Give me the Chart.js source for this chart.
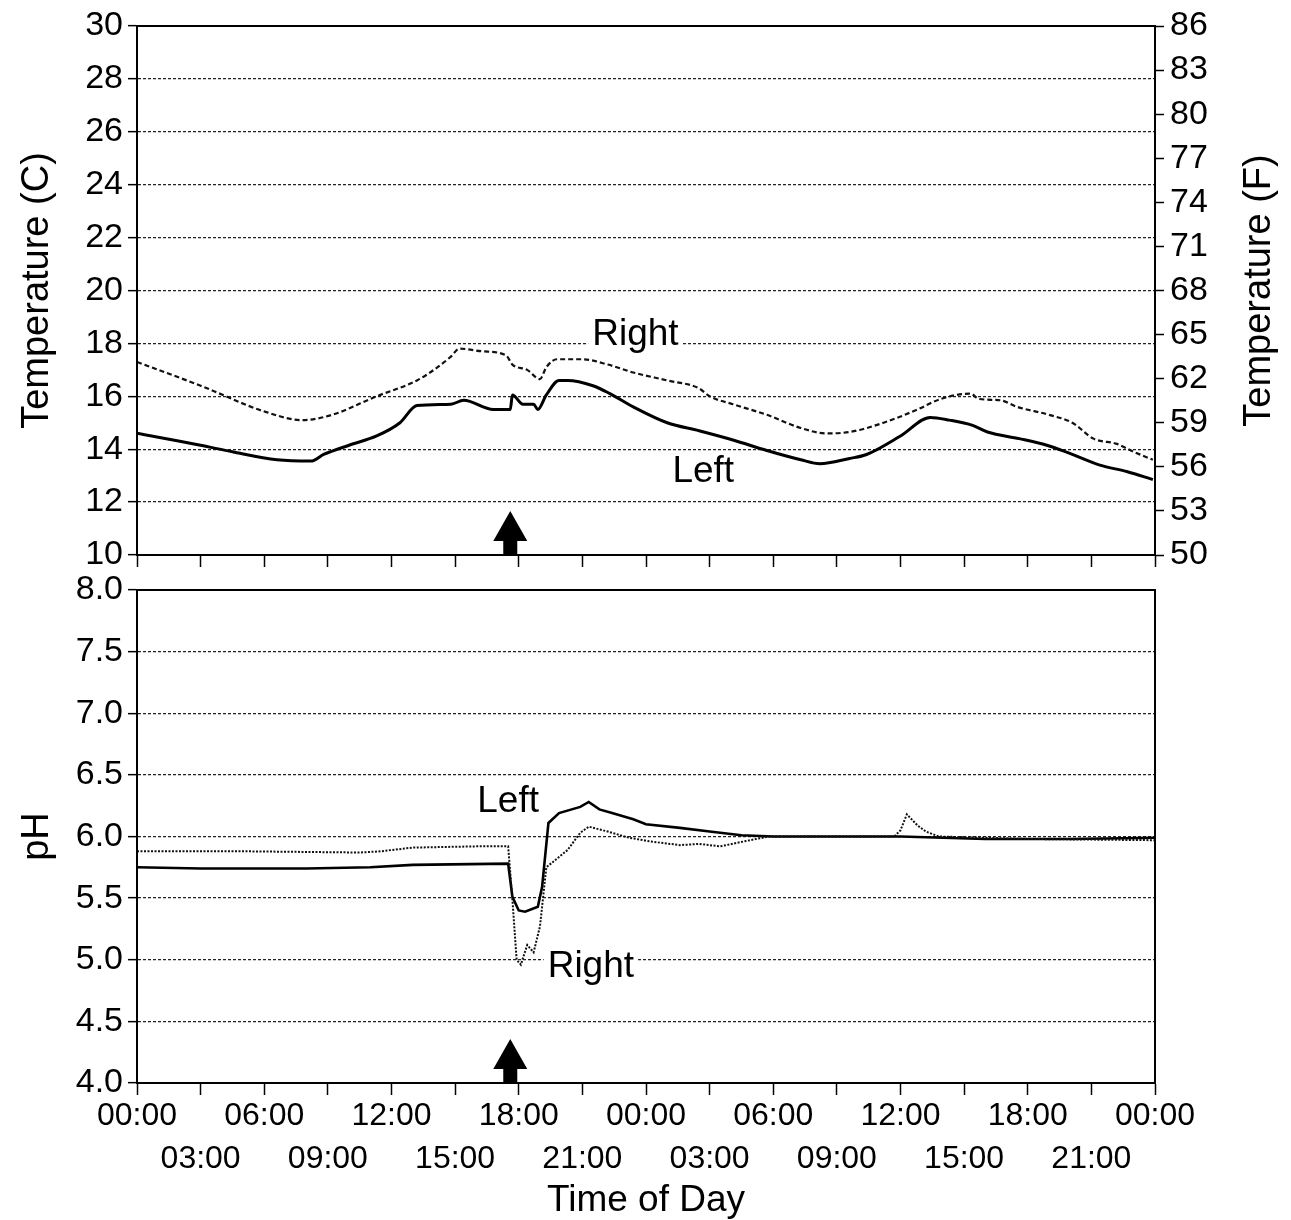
<!DOCTYPE html>
<html>
<head>
<meta charset="utf-8">
<script src="https://cdn.jsdelivr.net/npm/chart.js@4.4.0/dist/chart.umd.min.js"></script>
<style>
html,body{margin:0;padding:0;background:#fff;}
#wrap{position:relative;width:1291px;height:1220px;overflow:hidden;}
canvas{position:absolute;left:0;}
#chTemp{top:-4px;}
#chPh{top:562px;}
</style>
</head>
<body>
<div id="wrap">
  <canvas id="chTemp" width="1291" height="589"></canvas>
  <canvas id="chPh" width="1291" height="658"></canvas>
</div>
<script>
// hours since first midnight
const timeTicks = ['00:00','03:00','06:00','09:00','12:00','15:00','18:00','21:00','00:00','03:00','06:00','09:00','12:00','15:00','18:00','21:00','00:00'];

const tempHoursRight = [0, 3.0, 6.1, 7.8, 9.2, 11.3, 13.2, 14.0, 14.8, 15.2, 16.3, 17.4, 17.7, 18.4, 19.0, 19.3, 19.8, 21.0, 22.2, 23.4, 25.0, 26.5, 27.0, 28.1, 29.7, 31.3, 32.5, 33.6, 35.2, 36.8, 37.9, 39.3, 39.7, 40.7, 41.5, 43.0, 44.1, 45.1, 46.2, 47.0, 47.9];
const tempRight = [17.3, 16.4, 15.4, 15.1, 15.3, 16.0, 16.6, 17.0, 17.5, 17.8, 17.7, 17.55, 17.2, 17.0, 16.65, 17.1, 17.4, 17.4, 17.2, 16.9, 16.6, 16.3, 16.0, 15.7, 15.3, 14.8, 14.6, 14.65, 15.0, 15.5, 15.9, 16.1, 15.9, 15.85, 15.6, 15.3, 15.0, 14.4, 14.2, 13.9, 13.6];

const tempHoursLeft = [0, 3.0, 4.5, 6.6, 8.2, 8.8, 10.0, 11.3, 12.4, 13.2, 14.8, 15.4, 16.8, 17.6, 17.7, 18.2, 18.7, 18.9, 19.3, 19.9, 20.3, 21.5, 22.3, 23.4, 25.0, 26.5, 28.1, 29.7, 31.3, 32.2, 33.6, 34.4, 36.0, 37.4, 38.3, 39.4, 40.1, 41.6, 42.9, 43.8, 45.4, 46.7, 47.9];
const tempLeft = [14.6, 14.15, 13.9, 13.6, 13.55, 13.8, 14.15, 14.5, 15.0, 15.65, 15.7, 15.85, 15.5, 15.5, 16.05, 15.7, 15.7, 15.5, 16.05, 16.6, 16.6, 16.4, 16.1, 15.6, 15.0, 14.7, 14.35, 13.95, 13.6, 13.45, 13.65, 13.8, 14.5, 15.2, 15.1, 14.9, 14.65, 14.4, 14.15, 13.9, 13.4, 13.15, 12.85];

const phHoursRight = [0, 5, 10.5, 11.5, 13, 16, 17.5, 17.7, 17.9, 18.1, 18.4, 18.7, 19.0, 19.3, 20.3, 20.9, 21.3, 22.2, 23.2, 24.2, 25.6, 26.5, 27.5, 28.9, 29.8, 35.7, 36.0, 36.3, 36.8, 37.2, 37.8, 40, 42, 48];
const phRight = [5.88, 5.88, 5.87, 5.88, 5.91, 5.92, 5.92, 5.49, 5.0, 4.96, 5.12, 5.06, 5.27, 5.75, 5.89, 6.03, 6.08, 6.04, 5.99, 5.96, 5.93, 5.94, 5.92, 5.97, 6.0, 6.0, 6.05, 6.18, 6.09, 6.04, 6.0, 5.99, 5.98, 5.97];

const phHoursLeft = [0, 3, 8, 11, 13, 17.5, 17.7, 18.0, 18.3, 18.9, 19.1, 19.4, 19.9, 20.9, 21.3, 21.8, 22.4, 23.4, 24.0, 25.6, 27, 28.5, 30, 36, 38, 40, 44, 48];
const phLeft = [5.75, 5.74, 5.74, 5.75, 5.77, 5.78, 5.51, 5.4, 5.39, 5.43, 5.59, 6.11, 6.19, 6.24, 6.28, 6.22, 6.19, 6.14, 6.1, 6.07, 6.04, 6.01, 6.0, 6.0, 5.99, 5.98, 5.98, 5.99];

// event marker (hour) and in-plot labels [text, hour, value at baseline, boxed]
const arrowHour = 17.6;
const tempNotes = [['Right', 23.5, 17.95, true], ['Left', 26.7, 12.75, false]];
const phNotes = [['Left', 17.5, 6.2, false], ['Right', 21.4, 4.86, true]];

const FONT = "'Liberation Sans', Arial, Helvetica, sans-serif";
Chart.defaults.font.family = FONT;
Chart.defaults.color = '#000';

function pts(xs, ys){ return xs.map((x,i)=>({x, y: ys[i]})); }

const gridY = { color: '#222', lineWidth: 1.3, tickColor: '#000', tickLength: 9, tickWidth: 1.5, tickBorderDash: [] };
const borderY = { display: true, color: '#000', width: 2, dash: [3, 2] };

const marks = {
  id: 'marks',
  beforeDatasetsDraw(chart, args, opts){
    const {ctx, scales} = chart; const x = scales.x, y = scales[opts.yId];
    ctx.save();
    ctx.font = '37px ' + FONT; ctx.textAlign = 'center'; ctx.textBaseline = 'alphabetic';
    for (const [t, h, v, boxed] of opts.notes){
      const px = x.getPixelForValue(h), py = y.getPixelForValue(v);
      if (boxed){ const w = ctx.measureText(t).width; ctx.fillStyle = '#fff'; ctx.fillRect(px - w/2 - 4, py - 30, w + 8, 40); }
      ctx.fillStyle = '#000'; ctx.fillText(t, px, py);
    }
    ctx.restore();
  },
  afterDatasetsDraw(chart, args, opts){
    const {ctx, chartArea: a, scales} = chart;
    ctx.save();
    ctx.strokeStyle = '#000'; ctx.lineWidth = 2; ctx.strokeRect(a.left, a.top, a.width, a.height);
    const ax = scales.x.getPixelForValue(arrowHour), by = a.bottom;
    ctx.fillStyle = '#000'; ctx.beginPath();
    ctx.moveTo(ax, by - 44); ctx.lineTo(ax + 17, by - 14); ctx.lineTo(ax + 7, by - 14); ctx.lineTo(ax + 7, by);
    ctx.lineTo(ax - 7, by); ctx.lineTo(ax - 7, by - 14); ctx.lineTo(ax - 17, by - 14); ctx.closePath(); ctx.fill();
    // right-hand title reads bottom to top, like the left one
    if (opts.sideTitle){
      const s = scales[opts.sideTitle.axis];
      ctx.translate(s.right - 31, (a.top + a.bottom) / 2); ctx.rotate(-Math.PI / 2);
      ctx.font = '38px ' + FONT; ctx.textAlign = 'center'; ctx.textBaseline = 'middle';
      ctx.fillText(opts.sideTitle.text, 0, 0);
    }
    ctx.restore();
  }
};

function xScale(showLabels, h){
  return {
    type: 'linear', min: 0, max: 48,
    afterFit: s => { s.height = h; },
    border: { display: true, color: '#000', width: 2 },
    grid: { drawOnChartArea: false, drawTicks: true, tickLength: 12, tickColor: '#000', tickWidth: 1.5 },
    ticks: {
      display: showLabels, stepSize: 3, autoSkip: false, maxRotation: 0, minRotation: 0, padding: 0,
      font: { size: 32, lineHeight: 1.34 },
      callback: (v, i) => (i % 2 === 0 ? timeTicks[i] : ['', timeTicks[i]])
    },
    title: { display: showLabels, text: 'Time of Day', font: { size: 37 }, padding: { top: 0, bottom: -3 } }
  };
}

const chTemp = new Chart(document.getElementById('chTemp'), {
  type: 'line',
  data: { datasets: [
    { label: 'Right', data: pts(tempHoursRight, tempRight), borderColor: '#111', borderWidth: 2.2, borderDash: [5, 3], cubicInterpolationMode: 'monotone' },
    { label: 'Left', data: pts(tempHoursLeft, tempLeft), borderColor: '#000', borderWidth: 3, cubicInterpolationMode: 'monotone' }
  ]},
  options: {
    responsive: false, animation: false, devicePixelRatio: 1,
    elements: { point: { radius: 0 }, line: { tension: 0 } },
    layout: { padding: { top: 30, left: 0, right: 0, bottom: 0 } },
    plugins: { legend: { display: false }, tooltip: { enabled: false },
      marks: { yId: 'y', notes: tempNotes, sideTitle: { axis: 'yF', text: 'Temperature (F)' } } },
    scales: {
      x: xScale(false, 30),
      y: {
        min: 10, max: 30, afterFit: s => { s.width = 137; },
        border: borderY, grid: gridY,
        ticks: { stepSize: 2, padding: 5, autoSkip: false, font: { size: 34 } },
        title: { display: true, text: 'Temperature (C)', font: { size: 38 }, padding: { top: 15, bottom: 0 } }
      },
      yF: {
        position: 'right', min: 50, max: 86, afterFit: s => { s.width = 136; },
        border: { display: true, color: '#000', width: 2 },
        grid: { drawOnChartArea: false, tickColor: '#000', tickLength: 9, tickWidth: 1.5 },
        ticks: { stepSize: 3, padding: 6, autoSkip: false, font: { size: 34 } }
      }
    }
  },
  plugins: [marks]
});

const chPh = new Chart(document.getElementById('chPh'), {
  type: 'line',
  data: { datasets: [
    { label: 'Right', data: pts(phHoursRight, phRight), borderColor: '#111', borderWidth: 2, borderDash: [2, 1.5] },
    { label: 'Left', data: pts(phHoursLeft, phLeft), borderColor: '#000', borderWidth: 2.6 }
  ]},
  options: {
    responsive: false, animation: false, devicePixelRatio: 1,
    elements: { point: { radius: 0 }, line: { tension: 0 } },
    layout: { padding: { top: 28, left: 0, right: 136, bottom: 0 } },
    plugins: { legend: { display: false }, tooltip: { enabled: false }, marks: { yId: 'y', notes: phNotes } },
    scales: {
      x: xScale(true, 137),
      y: {
        min: 4, max: 8, afterFit: s => { s.width = 137; },
        border: borderY, grid: gridY,
        ticks: { stepSize: 0.5, padding: 5, autoSkip: false, font: { size: 34 }, callback: v => v.toFixed(1) },
        title: { display: true, text: 'pH', font: { size: 38 }, padding: { top: 15, bottom: 0 } }
      }
    }
  },
  plugins: [marks]
});
</script>
</body>
</html>
